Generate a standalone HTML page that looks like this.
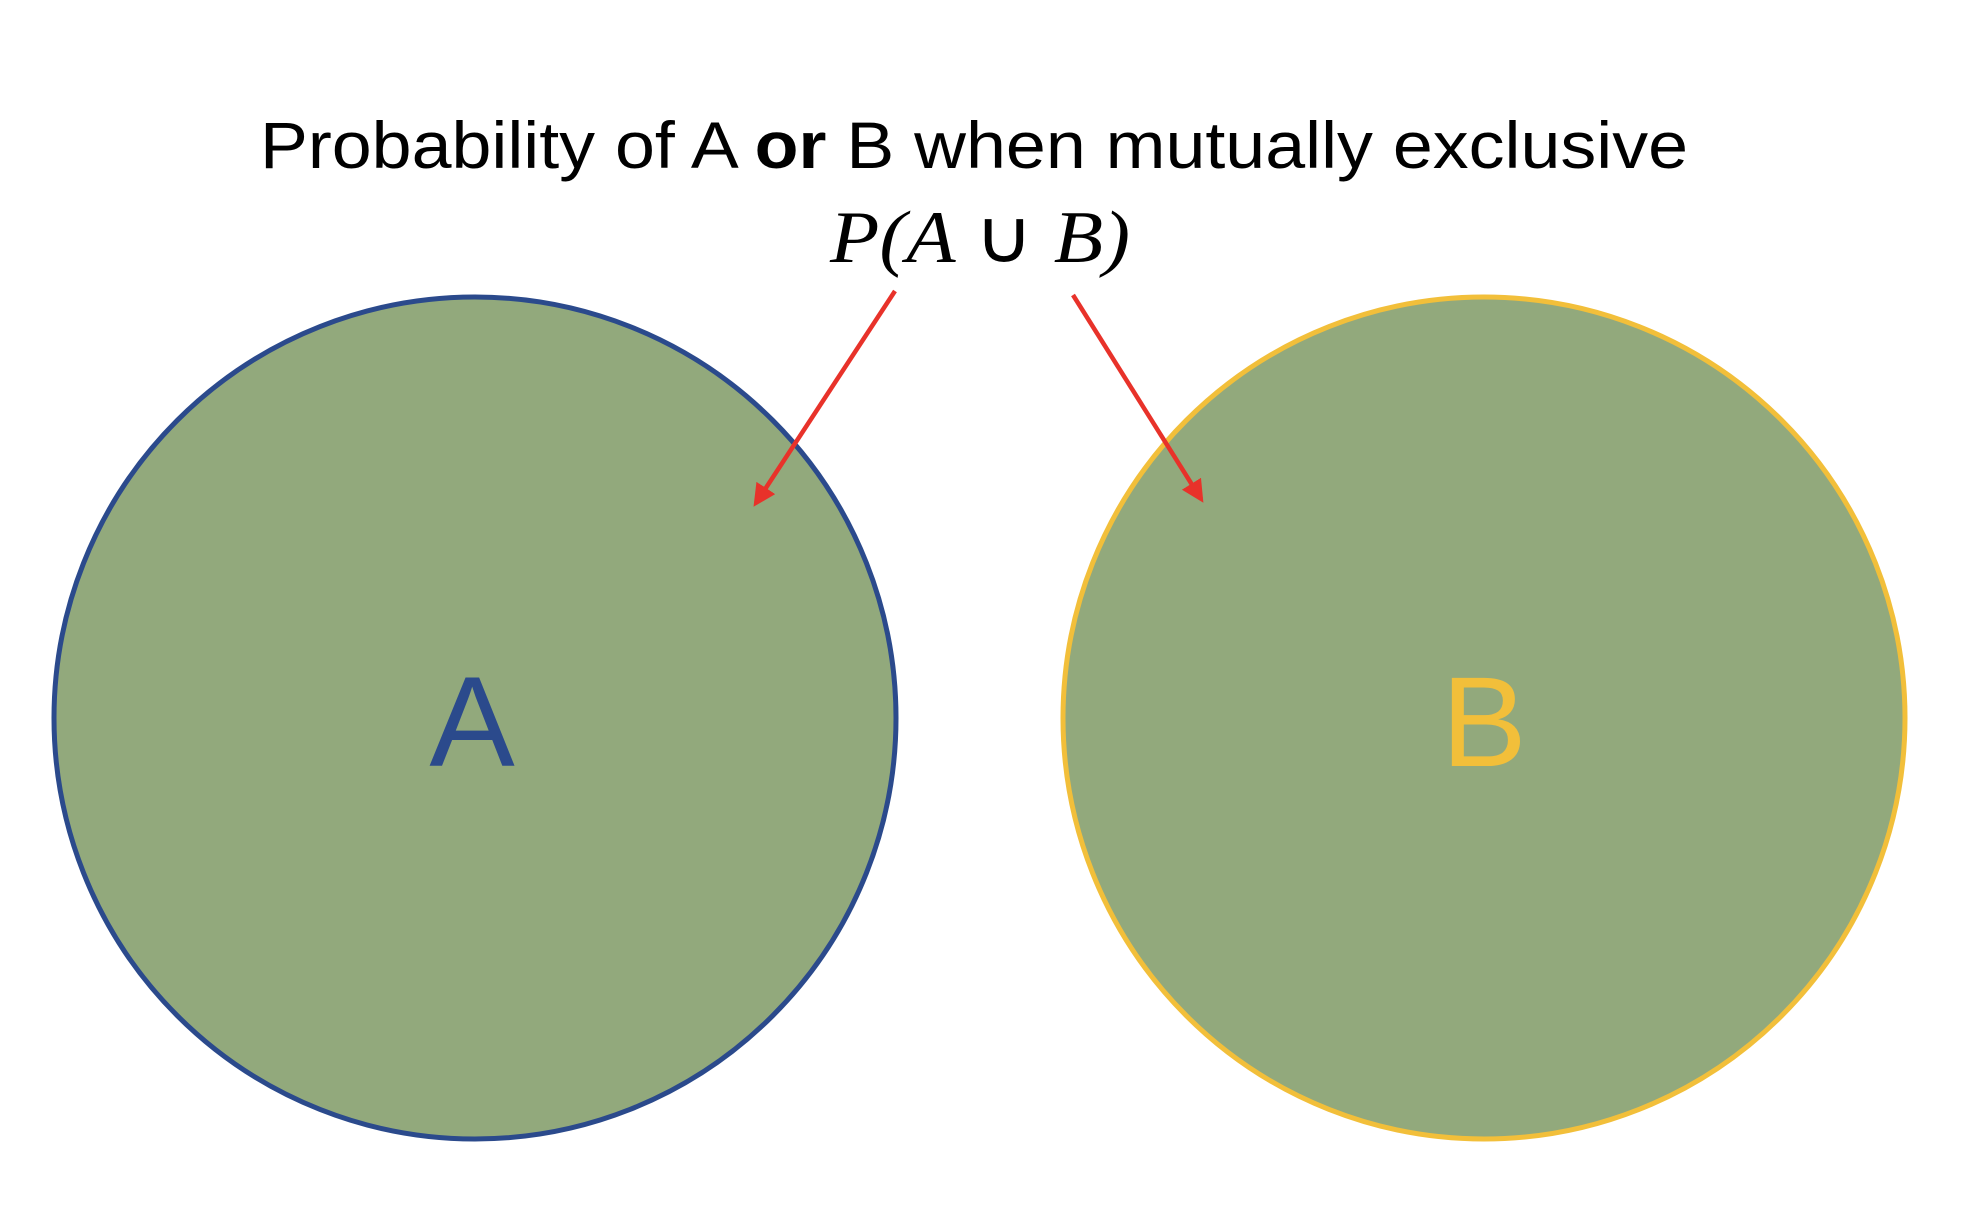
<!DOCTYPE html>
<html><head><meta charset="utf-8"><style>
html,body{margin:0;padding:0;background:#fff;}
svg{display:block;}
</style></head><body>
<svg width="1986" height="1216" viewBox="0 0 1986 1216" xmlns="http://www.w3.org/2000/svg">
<defs>
<marker id="ah" markerWidth="5" markerHeight="5" refX="4" refY="2.5" orient="auto" markerUnits="strokeWidth">
<path d="M0,0 L5,2.5 L0,5 Z" fill="#e8322a"/>
</marker>
</defs>
<rect width="1986" height="1216" fill="#fff"/>
<text x="974" y="168" text-anchor="middle" font-family="'Liberation Sans', sans-serif" font-size="66" fill="#000" textLength="1428" lengthAdjust="spacingAndGlyphs">Probability of A <tspan font-weight="bold">or</tspan> B when mutually exclusive</text>
<text x="980" y="262" text-anchor="middle" font-family="'Liberation Serif', serif" font-style="italic" font-size="74" fill="#000" textLength="300" lengthAdjust="spacingAndGlyphs">P(A <tspan font-style="normal" font-family="'DejaVu Sans', sans-serif">∪</tspan> B)</text>
<circle cx="475" cy="718" r="421" fill="#92a97c" stroke="#2b4a8c" stroke-width="5"/>
<circle cx="1484" cy="718" r="421" fill="#92a97c" stroke="#f2bf3a" stroke-width="5"/>
<text x="472" y="766" text-anchor="middle" font-family="'Liberation Sans', sans-serif" font-size="128" fill="#2b4a8c">A</text>
<text x="1484" y="766" text-anchor="middle" font-family="'Liberation Sans', sans-serif" font-size="128" fill="#f2bf3a">B</text>
<line x1="895" y1="291" x2="756" y2="503" stroke="#e8322a" stroke-width="4.5" marker-end="url(#ah)"/>
<line x1="1073" y1="295" x2="1201" y2="499" stroke="#e8322a" stroke-width="4.5" marker-end="url(#ah)"/>
</svg>
</body></html>
